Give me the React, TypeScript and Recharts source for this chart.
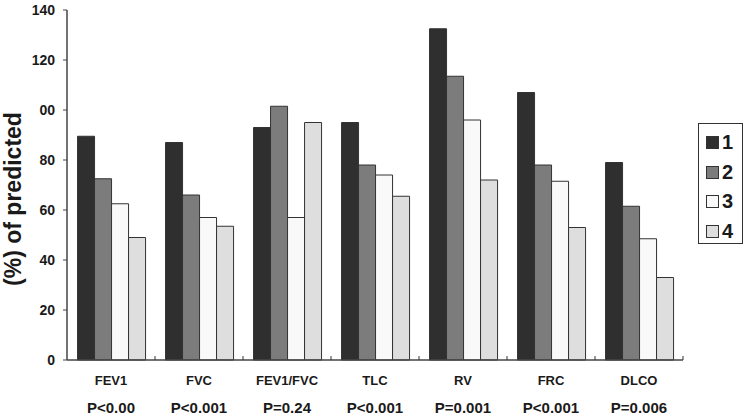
import { Bar, BarChart, XAxis, YAxis } from "recharts";

const categories = ["FEV1", "FVC", "FEV1/FVC", "TLC", "RV", "FRC", "DLCO"];
const pValues = ["P<0.00", "P<0.001", "P=0.24", "P<0.001", "P=0.001", "P<0.001", "P=0.006"];

const group1 = [89.5, 87, 93, 95, 132.5, 107, 79];
const group2 = [72.5, 66, 101.5, 78, 113.5, 78, 61.5];
const group3 = [62.5, 57, 57, 74, 96, 71.5, 48.5];
const group4 = [49, 53.5, 95, 65.5, 72, 53, 33];

const yTicks = [0, 20, 40, 60, 80, 100, 120, 140];
const yTickLabels = ["0", "20", "40", "60", "80", "00", "120", "140"];

const seriesKeys = ["1", "2", "3", "4"];
const seriesColors = ["#2f2f2f", "#7c7c7c", "#f9f9f9", "#dedede"];

const data = categories.map((name, i) => ({
  name,
  p: pValues[i],
  "1": group1[i],
  "2": group2[i],
  "3": group3[i],
  "4": group4[i],
}));

const FONT = '"Liberation Sans", Arial, sans-serif';

function CategoryTick(props: any) {
  const { x, y, payload, index } = props;
  const half = payload?.offset ?? 44;
  return (
    <g>
      <line x1={x + half} x2={x + half} y1={y} y2={y - 4} stroke="#333" />
      <text
        x={x}
        y={y + 25}
        textAnchor="middle"
        fontFamily={FONT}
        fontWeight="bold"
        fontSize={13}
        fill="#1a1a1a"
      >
        {payload.value}
      </text>
      <text
        x={x}
        y={y + 53}
        textAnchor="middle"
        fontFamily={FONT}
        fontWeight="bold"
        fontSize={15}
        fill="#1a1a1a"
      >
        {pValues[index]}
      </text>
    </g>
  );
}

function LegendBox() {
  return (
    <div
      style={{
        position: "absolute",
        left: 698,
        top: 123,
        border: "1.5px solid #333",
        width: 45,
        height: 121,
        boxSizing: "border-box",
        paddingTop: 4,
        paddingLeft: 7,
        fontFamily: FONT,
      }}
    >
      {seriesKeys.map((k, i) => (
        <div
          key={k}
          style={{ display: "flex", alignItems: "center", height: 29.5 }}
        >
          <span
            style={{
              display: "inline-block",
              width: 11,
              height: 11,
              background: seriesColors[i],
              border: "1px solid #333",
              marginRight: 3,
            }}
          />
          <span style={{ fontWeight: "bold", fontSize: 20, color: "#1a1a1a" }}>{k}</span>
        </div>
      ))}
    </div>
  );
}

export default function App() {
  return (
    <div style={{ width: 747, height: 415, background: "#fff", position: "relative" }}>
      <style>{`body{margin:0}`}</style>
      <BarChart
        width={747}
        height={415}
        data={data}
        margin={{ top: 10, right: 64, left: 0, bottom: 5 }}
        barGap={0}
        barCategoryGap="12%"
      >
        <XAxis
          dataKey="name"
          height={50}
          tickLine={false}
          tickSize={0}
          tickMargin={0}
          axisLine={{ stroke: "#444", strokeWidth: 1.5 }}
          tick={<CategoryTick />}
          interval={0}
        />
        <YAxis
          width={67}
          domain={[0, 140]}
          ticks={yTicks}
          tickSize={4}
          tickMargin={8}
          interval={0}
          tickFormatter={(v: number) => yTickLabels[yTicks.indexOf(v)]}
          tick={{ fontSize: 14, fontWeight: "bold", fill: "#1a1a1a", fontFamily: FONT }}
          tickLine={{ stroke: "#444" }}
          axisLine={{ stroke: "#444", strokeWidth: 1.5 }}
          label={{
            content: () => (
              <text
                x={13}
                y={199}
                transform="rotate(-90 13 199)"
                textAnchor="middle"
                dominantBaseline="central"
                fontFamily={FONT}
                fontWeight="bold"
                fontSize={23}
                fill="#1a1a1a"
              >
                (%) of predicted
              </text>
            ),
          }}
        />
        {seriesKeys.map((k, i) => (
          <Bar
            key={k}
            dataKey={k}
            fill={seriesColors[i]}
            stroke="#333"
            strokeWidth={1}
            isAnimationActive={false}
          />
        ))}
      </BarChart>
      <LegendBox />
    </div>
  );
}
